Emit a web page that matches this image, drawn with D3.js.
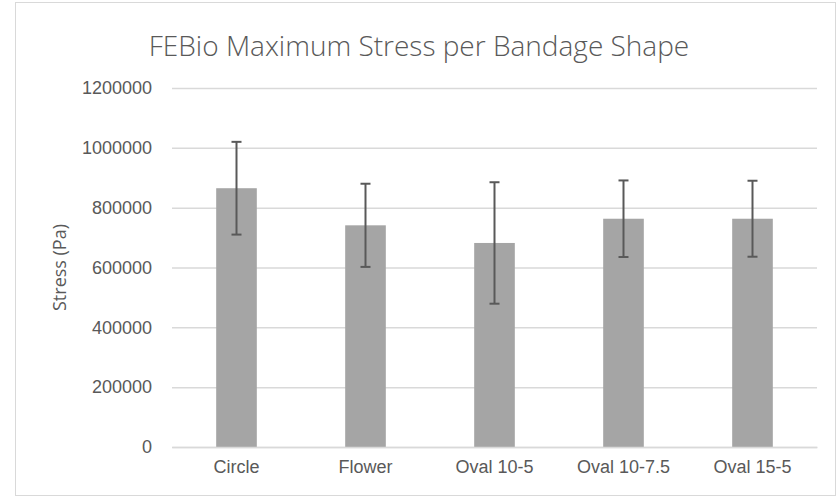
<!DOCTYPE html>
<html>
<head>
<meta charset="utf-8">
<script src="https://cdn.jsdelivr.net/npm/d3@7"></script>
<style>
  body { margin: 0; background: #fff; }
  svg { font-family: "Open Sans", sans-serif; }
</style>
</head>
<body>
<svg width="838" height="498"></svg>
<script>
var shapes = ["Circle", "Flower", "Oval 10-5", "Oval 10-7.5", "Oval 15-5"];
var stress = [865000, 741000, 682000, 763000, 763000];
var stressErr = [155000, 139000, 203000, 128000, 127000];
var yTicks = [0, 200000, 400000, 600000, 800000, 1000000, 1200000];

var svg = d3.select("svg"),
    margin = {top: 88, right: 21, bottom: 51, left: 172},
    width = +svg.attr("width") - margin.left - margin.right,
    height = +svg.attr("height") - margin.top - margin.bottom;

// chart border
svg.append("rect")
    .attr("x", 15.5).attr("y", 2.5)
    .attr("width", 820).attr("height", 493)
    .attr("fill", "none")
    .attr("stroke", "#d9d9d9");

var data = shapes.map(function(s, i) { return {shape: s, value: stress[i], err: stressErr[i]}; });

var x = d3.scaleBand().domain(shapes).range([0, width]).paddingInner(0.685).paddingOuter(0.3425),
    y = d3.scaleLinear().domain([0, 1200000]).range([height, 0]);

var g = svg.append("g")
    .attr("transform", "translate(" + margin.left + "," + margin.top + ")");

// gridlines
g.append("g")
    .call(d3.axisLeft(y).tickValues(yTicks).tickSize(-width).tickFormat(""))
    .call(function(a) {
      a.select(".domain").remove();
      a.selectAll("line").attr("stroke", "#d9d9d9").attr("stroke-width", 1.5);
    });

// y tick labels
g.append("g")
    .call(d3.axisLeft(y).tickValues(yTicks).tickSize(0).tickPadding(20).tickFormat(d3.format("d")))
    .call(function(a) {
      a.select(".domain").remove();
      a.selectAll("text").attr("fill", "#595959").style("font-size", "18px");
    });

// bars
g.selectAll(".bar")
  .data(data)
  .enter().append("rect")
    .attr("class", "bar")
    .attr("x", function(d) { return x(d.shape); })
    .attr("y", function(d) { return y(d.value); })
    .attr("width", x.bandwidth())
    .attr("height", function(d) { return height - y(d.value); })
    .attr("fill", "#a5a5a5");

// x axis
g.append("g")
    .attr("transform", "translate(0," + height + ")")
    .call(d3.axisBottom(x).tickSize(0).tickPadding(13))
    .call(function(a) {
      a.select(".domain").attr("stroke", "#d9d9d9").attr("stroke-width", 1.5);
      a.selectAll("text").attr("fill", "#595959").style("font-size", "18px");
    });

// error bars
var eb = g.selectAll(".err")
  .data(data)
  .enter().append("g")
    .attr("class", "err")
    .attr("stroke", "#595959")
    .attr("stroke-width", 2);

eb.append("line")
    .attr("x1", function(d) { return x(d.shape) + x.bandwidth() / 2; })
    .attr("x2", function(d) { return x(d.shape) + x.bandwidth() / 2; })
    .attr("y1", function(d) { return y(d.value + d.err); })
    .attr("y2", function(d) { return y(d.value - d.err); });

eb.selectAll(".cap")
  .data(function(d) { return [d.value + d.err, d.value - d.err].map(function(v) { return {shape: d.shape, v: v}; }); })
  .enter().append("line")
    .attr("x1", function(d) { return x(d.shape) + x.bandwidth() / 2 - 5; })
    .attr("x2", function(d) { return x(d.shape) + x.bandwidth() / 2 + 5; })
    .attr("y1", function(d) { return y(d.v); })
    .attr("y2", function(d) { return y(d.v); });

// title
svg.append("text")
    .attr("x", 419)
    .attr("y", 56)
    .attr("text-anchor", "middle")
    .attr("fill", "#595959")
    .style("font-size", "28px")
    .style("font-weight", 300)
    .text("FEBio Maximum Stress per Bandage Shape");

// y axis title
svg.append("text")
    .attr("transform", "translate(66," + (margin.top + height / 2) + ") rotate(-90)")
    .attr("text-anchor", "middle")
    .attr("fill", "#595959")
    .style("font-size", "18px")
    .text("Stress (Pa)");
</script>
</body>
</html>
